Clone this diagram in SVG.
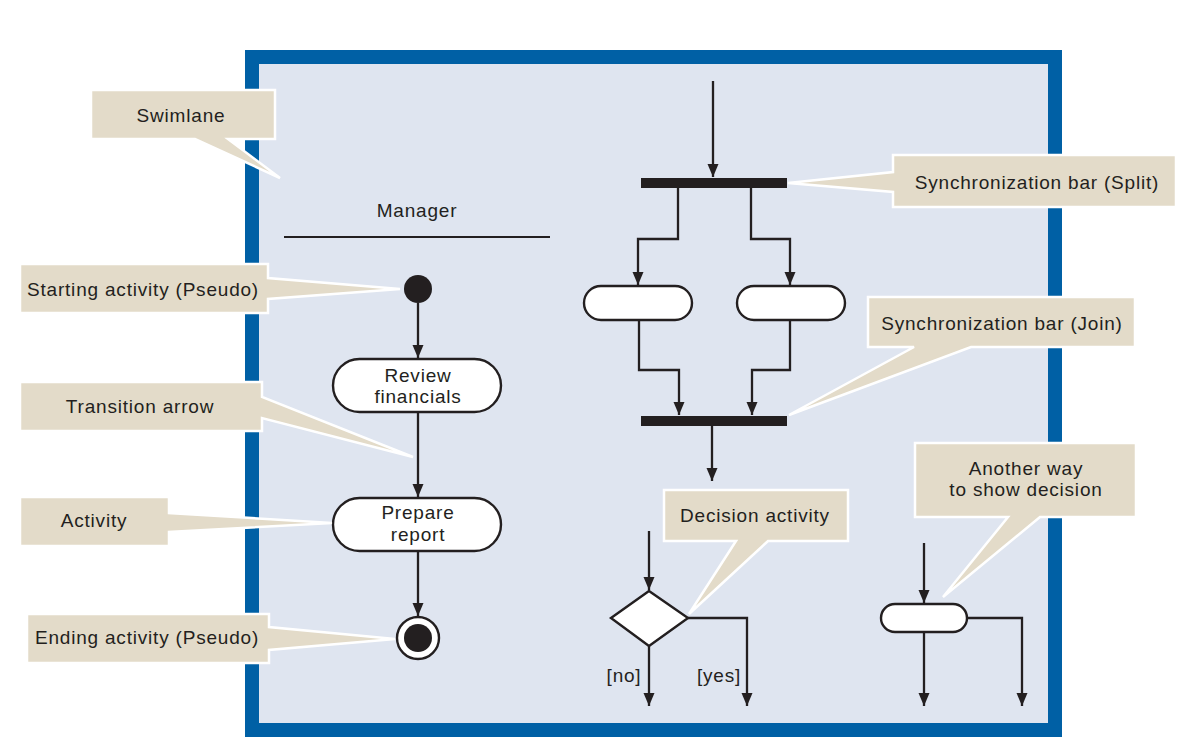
<svg xmlns="http://www.w3.org/2000/svg" width="1195" height="743" viewBox="0 0 1195 743">
<defs>
<style>
.t{font-family:"Liberation Sans",Arial,sans-serif;font-size:19px;fill:#231f20;letter-spacing:0.8px;text-anchor:middle}
.call{fill:#e3dbc9;stroke:#ffffff;stroke-width:2.5;stroke-linejoin:miter}
.node{fill:#ffffff;stroke:#231f20;stroke-width:2.4}
.con{fill:none;stroke:#231f20;stroke-width:2.3}
.bar{fill:#231f20}
</style>
<marker id="ah" markerUnits="userSpaceOnUse" markerWidth="14" markerHeight="14" refX="13" refY="7" orient="auto">
<path d="M0,1.5 L13,7 L0,12.5 z" fill="#231f20"/>
</marker>
</defs>
<rect width="1195" height="743" fill="#ffffff"/>
<g id="swimlane-frame">
<rect x="252" y="57" width="803" height="673" fill="#dfe5f0" stroke="#0060a5" stroke-width="14"/>
<text class="t" x="417" y="217">Manager</text>
<line x1="284" y1="237" x2="550" y2="237" stroke="#231f20" stroke-width="2"/>
</g>
<g id="connectors">
<line class="con" x1="418" y1="303" x2="418" y2="358" marker-end="url(#ah)"/>
<line class="con" x1="418" y1="412" x2="418" y2="497" marker-end="url(#ah)"/>
<line class="con" x1="418" y1="551" x2="418" y2="616" marker-end="url(#ah)"/>
<line class="con" x1="713" y1="81" x2="713" y2="177" marker-end="url(#ah)"/>
<polyline class="con" points="678,188 678,239 638,239 638,285" marker-end="url(#ah)"/>
<polyline class="con" points="751,188 751,239 790,239 790,285" marker-end="url(#ah)"/>
<polyline class="con" points="639,321 639,370 679,370 679,415" marker-end="url(#ah)"/>
<polyline class="con" points="790,321 790,370 752,370 752,415" marker-end="url(#ah)"/>
<line class="con" x1="712" y1="426" x2="712" y2="481" marker-end="url(#ah)"/>
<line class="con" x1="649" y1="531" x2="649" y2="590" marker-end="url(#ah)"/>
<line class="con" x1="649" y1="646" x2="649" y2="706" marker-end="url(#ah)"/>
<polyline class="con" points="688,618 747,618 747,706" marker-end="url(#ah)"/>
<line class="con" x1="924" y1="543" x2="924" y2="603" marker-end="url(#ah)"/>
<line class="con" x1="924" y1="632" x2="924" y2="706" marker-end="url(#ah)"/>
<polyline class="con" points="968,618 1022,618 1022,706" marker-end="url(#ah)"/>
<text class="t" x="624" y="682">[no]</text>
<text class="t" x="719" y="682">[yes]</text>
</g>
<g id="start"><circle cx="418" cy="289" r="14" fill="#231f20"/></g>
<g id="review"><rect class="node" x="333" y="359" width="168" height="53" rx="26.5"/>
<text class="t" x="418" y="382">Review</text><text class="t" x="418" y="403">financials</text></g>
<g id="prepare"><rect class="node" x="333" y="498" width="168" height="53" rx="26.5"/>
<text class="t" x="418" y="519">Prepare</text><text class="t" x="418" y="541">report</text></g>
<g id="end"><circle cx="418" cy="638" r="21" fill="#ffffff" stroke="#231f20" stroke-width="2.4"/><circle cx="418" cy="638" r="14" fill="#231f20"/></g>
<g id="split-bar"><rect class="bar" x="641" y="178" width="146" height="10"/></g>
<g id="act-left"><rect class="node" x="584" y="286" width="108" height="34" rx="17"/></g>
<g id="act-right"><rect class="node" x="737" y="286" width="108" height="34" rx="17"/></g>
<g id="join-bar"><rect class="bar" x="641" y="416" width="146" height="10"/></g>
<g id="decision"><polygon class="node" points="611,618 649,591 688,618 649,646"/></g>
<g id="alt-decision"><rect class="node" x="881" y="604" width="86" height="28" rx="14"/></g>
<g id="callout-swimlane">
<polygon class="call" points="91,90 275,90 275,139 228,139 280,178 195,139 91,139"/>
<text class="t" x="181" y="122">Swimlane</text></g>
<g id="callout-start">
<polygon class="call" points="20,264 268,264 268,278 400,289 268,299 268,313 20,313"/>
<text class="t" x="143" y="296">Starting activity (Pseudo)</text></g>
<g id="callout-transition">
<polygon class="call" points="20,382 262,382 262,397 413,457 262,418 262,431 20,431"/>
<text class="t" x="140" y="413">Transition arrow</text></g>
<g id="callout-activity">
<polygon class="call" points="20,497 169,497 169,513 332,523 169,532 169,546 20,546"/>
<text class="t" x="94" y="527">Activity</text></g>
<g id="callout-end">
<polygon class="call" points="27,614 269,614 269,627 395,639 269,650 269,663 27,663"/>
<text class="t" x="147" y="644">Ending activity (Pseudo)</text></g>
<g id="callout-split">
<polygon class="call" points="893,155 1176,155 1176,207 893,207 893,192 788,183 893,172"/>
<text class="t" x="1037" y="189">Synchronization bar (Split)</text></g>
<g id="callout-join">
<polygon class="call" points="868,297 1135,297 1135,347 971,347 789,415 914,347 868,347"/>
<text class="t" x="1002" y="330">Synchronization bar (Join)</text></g>
<g id="callout-decision">
<polygon class="call" points="664,490 848,490 848,541 768,541 689,614 736,541 664,541"/>
<text class="t" x="755" y="522">Decision activity</text></g>
<g id="callout-another">
<polygon class="call" points="915,443 1136,443 1136,517 1040,517 943,597 1008,517 915,517"/>
<text class="t" x="1026" y="475">Another way</text>
<text class="t" x="1026" y="496">to show decision</text></g>
</svg>
